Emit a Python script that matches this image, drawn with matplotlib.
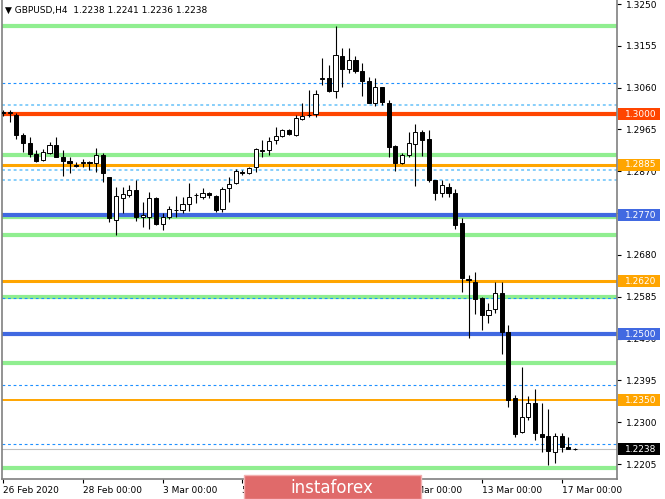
import matplotlib
matplotlib.use('Agg')
import matplotlib.pyplot as plt
from matplotlib.patches import Rectangle
import matplotlib.transforms as mtransforms

# ---------------- data ----------------
opens = [1.3003, 1.3002, 1.2998, 1.2952, 1.2935, 1.2909, 1.2896, 1.2911, 1.2930, 1.2903,
         1.2893, 1.2885, 1.2889, 1.2890, 1.2888, 1.2907, 1.2856, 1.2759, 1.2809, 1.2816,
         1.2827, 1.2765, 1.2765, 1.2809, 1.2750, 1.2766, 1.2782, 1.2782, 1.2796, 1.2815,
         1.2811, 1.2820, 1.2814, 1.2784, 1.2831, 1.2843, 1.2869, 1.2865, 1.2880, 1.2916,
         1.2918, 1.2941, 1.2951, 1.2964, 1.2952, 1.2988, 1.2997, 1.2999, 1.3080, 1.3081,
         1.3053, 1.3132, 1.3102, 1.3123, 1.3098, 1.3076, 1.3026, 1.3061, 1.3026, 1.2927,
         1.2889, 1.2907, 1.2932, 1.2960, 1.2943, 1.2850, 1.2821, 1.2835, 1.2821, 1.2752,
         1.2625, 1.2619, 1.2581, 1.2543, 1.2556, 1.2593, 1.2506, 1.2355, 1.2278, 1.2311,
         1.2344, 1.2273, 1.2269, 1.2233, 1.2269, 1.2244, 1.2238]
highs = [1.3009, 1.3009, 1.3002, 1.2957, 1.2949, 1.2918, 1.2920, 1.2937, 1.2947, 1.2918,
         1.2902, 1.2892, 1.2897, 1.2893, 1.2922, 1.2911, 1.2858, 1.2834, 1.2834, 1.2839,
         1.2850, 1.2801, 1.2824, 1.2812, 1.2775, 1.2790, 1.2814, 1.2812, 1.2844, 1.2820,
         1.2831, 1.2824, 1.2816, 1.2835, 1.2858, 1.2875, 1.2873, 1.2880, 1.2924, 1.2941,
         1.2947, 1.2970, 1.2965, 1.2966, 1.2998, 1.3026, 1.3055, 1.3055, 1.3127, 1.3111,
         1.3200, 1.3149, 1.3149, 1.3132, 1.3115, 1.3085, 1.3081, 1.3061, 1.3032, 1.2930,
         1.2911, 1.2960, 1.2977, 1.2964, 1.2964, 1.2850, 1.2850, 1.2843, 1.2829, 1.2763,
         1.2634, 1.2642, 1.2585, 1.2571, 1.2619, 1.2619, 1.2521, 1.2362, 1.2425, 1.2359,
         1.2375, 1.2343, 1.2329, 1.2275, 1.2276, 1.2267, 1.2241]
lows = [1.2996, 1.2983, 1.2943, 1.2914, 1.2903, 1.2892, 1.2894, 1.2909, 1.2902, 1.2859,
        1.2865, 1.2880, 1.2880, 1.2873, 1.2869, 1.2846, 1.2755, 1.2725, 1.2775, 1.2812,
        1.2758, 1.2744, 1.2740, 1.2748, 1.2737, 1.2761, 1.2767, 1.2775, 1.2780, 1.2797,
        1.2806, 1.2809, 1.2778, 1.2778, 1.2801, 1.2841, 1.2862, 1.2864, 1.2869, 1.2902,
        1.2907, 1.2932, 1.2949, 1.2953, 1.2950, 1.2987, 1.2994, 1.2994, 1.3066, 1.3049,
        1.3036, 1.3062, 1.3093, 1.3094, 1.3041, 1.3024, 1.3018, 1.3021, 1.2903, 1.2871,
        1.2887, 1.2903, 1.2837, 1.2905, 1.2846, 1.2805, 1.2811, 1.2812, 1.2740, 1.2596,
        1.2491, 1.2546, 1.2509, 1.2526, 1.2549, 1.2455, 1.2335, 1.2266, 1.2275, 1.2305,
        1.2259, 1.2233, 1.2203, 1.2208, 1.2233, 1.2238, 1.2236]
closes = [1.3005, 1.3005, 1.2952, 1.2935, 1.2909, 1.2894, 1.2914, 1.2930, 1.2903, 1.2894,
          1.2888, 1.2883, 1.2890, 1.2889, 1.2907, 1.2865, 1.2763, 1.2814, 1.2818, 1.2827,
          1.2765, 1.2771, 1.2809, 1.2750, 1.2767, 1.2784, 1.2783, 1.2796, 1.2811, 1.2816,
          1.2820, 1.2815, 1.2782, 1.2829, 1.2841, 1.2871, 1.2865, 1.2877, 1.2920, 1.2918,
          1.2939, 1.2951, 1.2964, 1.2955, 1.2990, 1.2996, 1.2998, 1.3046, 1.3081, 1.3053,
          1.3134, 1.3102, 1.3123, 1.3098, 1.3075, 1.3026, 1.3061, 1.3028, 1.2926, 1.2888,
          1.2907, 1.2934, 1.2960, 1.2941, 1.2850, 1.2821, 1.2839, 1.2821, 1.2748, 1.2627,
          1.2623, 1.2579, 1.2543, 1.2555, 1.2593, 1.2506, 1.2350, 1.2273, 1.2311, 1.2344,
          1.2275, 1.2267, 1.2235, 1.2269, 1.2244, 1.2240, 1.2238]

date_labels = ['26 Feb 2020', '28 Feb 00:00', '3 Mar 00:00', '5 Mar 00:00',
               '9 Mar 00:00', '11 Mar 00:00', '13 Mar 00:00', '17 Mar 00:00']
date_label_bars = [0, 12, 24, 36, 48, 60, 72, 84]

price_ticks = [1.3250, 1.3155, 1.3060, 1.2965, 1.2870, 1.2775, 1.2680,
               1.2585, 1.2490, 1.2395, 1.2300, 1.2205]

green_levels = [1.3200, 1.2906, 1.2766, 1.2726, 1.2584, 1.2435, 1.2197]
key_levels = [1.3000, 1.2885, 1.2770, 1.2620, 1.2500, 1.2350]
key_colors = ['#ff4500', '#ffa500', '#4169e1', '#ffa500', '#4169e1', '#ffa500']
key_widths = [3.0, 2.2, 3.0, 2.2, 3.0, 1.4]
dashed_levels = [1.3070, 1.2581, 1.2384, 1.2250]
dotted_levels = [1.3020, 1.2873, 1.2850]
current_price = 1.2238
header = '\u25bc GBPUSD,H4  1.2238 1.2241 1.2236 1.2238'

# ---------------- figure ----------------
W, H = 665, 499
fig = plt.figure(figsize=(W / 100, H / 100), dpi=100)
fig.patch.set_facecolor('white')
ax_l, ax_r, ax_t, ax_b = 2, 617, 0, 479
ax = fig.add_axes([ax_l / W, 1 - ax_b / H, (ax_r - ax_l) / W, (ax_b - ax_t) / H])
ax.set_facecolor('white')

FS = 6.5
n = len(opens)
xs = list(range(n))

# levels
for p in green_levels:
    ax.axhline(p, color='#90ee90', lw=3.0, zorder=1)
for p in dashed_levels:
    ax.axhline(p, color='#1e90ff', lw=0.8, dashes=(2.5, 2.5), zorder=1.2)
for p in dotted_levels:
    ax.axhline(p, color='#87cefa', lw=1.4, dashes=(1.5, 1.5), zorder=1.2)
for p, c, w in zip(key_levels, key_colors, key_widths):
    ax.axhline(p, color=c, lw=w, zorder=1.5)
ax.axhline(current_price, color='#c0c0c0', lw=0.8, zorder=1.1)

# candles
ax.vlines(xs, lows, highs, color='black', lw=0.8, zorder=3)
bottoms = [min(o, c) for o, c in zip(opens, closes)]
heights = [abs(c - o) for o, c in zip(opens, closes)]
colors = ['white' if c >= o else 'black' for o, c in zip(opens, closes)]
ax.bar(xs, heights, bottom=bottoms, width=0.62, color=colors,
       edgecolor='black', linewidth=0.7, zorder=4)

# limits
px_per_price = 4402.0
y_top = 1.3250 + 4 / px_per_price
y_bot = y_top - (ax_b - ax_t) / px_per_price
ax.set_ylim(y_bot, y_top)
bar_px = 6.65
x0_px = 3
ax.set_xlim((ax_l - x0_px) / bar_px, (ax_r - x0_px) / bar_px)

# axes styling
for s in ['top']:
    ax.spines[s].set_visible(False)
for s in ['left', 'right', 'bottom']:
    ax.spines[s].set_color('#808080')
    ax.spines[s].set_linewidth(1.2)

ax.yaxis.tick_right()
ax.set_yticks(price_ticks)
ax.set_yticklabels(['%.4f' % p for p in price_ticks], fontsize=FS)
ax.tick_params(axis='y', length=3, width=0.8, color='black', pad=3.5)

ax.set_xticks(date_label_bars)
ax.set_xticklabels(date_labels, fontsize=FS)
for lab in ax.get_xticklabels():
    lab.set_horizontalalignment('left')
ax.tick_params(axis='x', length=3, width=0.8, color='black', pad=2)

# highlighted price labels
trans = mtransforms.blended_transform_factory(ax.transAxes, ax.transData)
axw = ax_r - ax_l
box_x0 = (618 - ax_l) / axw
box_w = (660 - 618) / axw
box_h = 12 / px_per_price
for p, c in list(zip(key_levels, key_colors)) + [(current_price, 'black')]:
    r = Rectangle((box_x0, p - box_h / 2), box_w, box_h, transform=trans,
                  facecolor=c, edgecolor='none', clip_on=False, zorder=5)
    ax.add_patch(r)
    ax.text((625 - ax_l) / axw, p, '%.4f' % p, transform=trans, color='white',
            fontsize=FS, va='center', ha='left', clip_on=False, zorder=6)

# header
fig.text(5 / W, 1 - 10 / H, header, fontsize=FS, va='center', ha='left', color='black')

# logo
logo = Rectangle((244 / W, 0), (421 - 244) / W, (H - 475) / H, transform=fig.transFigure,
                 facecolor='#e06a6a', edgecolor='#f2b0b0', linewidth=1.0, zorder=10)
fig.patches.append(logo)
fig.text(332 / W, 1 - 488 / H, 'instaforex', color='white', fontsize=12,
         ha='center', va='center', zorder=11)

fig.savefig('out.png', dpi=100, facecolor='white')
